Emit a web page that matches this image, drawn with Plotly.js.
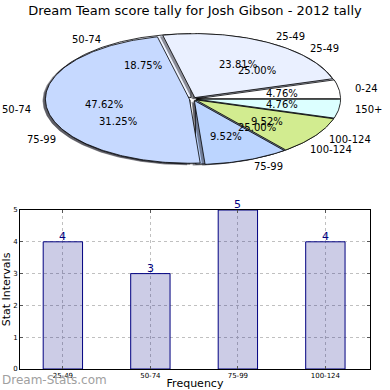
<!DOCTYPE html>
<html>
<head>
<meta charset="utf-8">
<script src="https://cdn.plot.ly/plotly-3.0.1.min.js"></script>
<style>html,body{margin:0;padding:0;background:#fff;}#chart{width:390px;height:390px;}</style>
</head>
<body>
<div id="chart"></div>
<script>
// ---- data ----
const chartTitle = 'Dream Team score tally for Josh Gibson - 2012 tally';
const pieALabels = ['0-24', '25-49', '50-74', '75-99', '100-124', '150+'];
const pieAValues = [1, 5, 10, 2, 2, 1];
const pieAColors = ['#ffffff', '#eaf0ff', '#c6d9ff', '#bcd5ff', '#d2ec90', '#dcffff'];
const pieBLabels = ['25-49', '50-74', '75-99', '100-124'];
const pieBValues = [4, 3, 5, 4];
const pieBColors = ['#eaf0ff', '#eef3ff', '#c6d9ff', '#bcd5ff'];
const barCategories = ['25-49', '50-74', '75-99', '100-124'];
const barValues = [4, 3, 5, 4];
const yTickVals = [0, 1, 2, 3, 4, 5];

// ---- pie geometry (in the overlay axes, units = pixels) ----
const CX = 193, CY = 99, RX = 144, RY = 64, EXPLODE = 0.025;
const FONT = 'DejaVu Sans, sans-serif';
const traces = [];
const annotations = [];

function wedgePoly(cx, cy, a1, a2, dx, dy) {
  const xs = [cx + dx], ys = [cy + dy];
  const n = Math.max(2, Math.ceil((a2 - a1) / 1));
  for (let i = 0; i <= n; i++) {
    const t = (a1 + (a2 - a1) * i / n) * Math.PI / 180;
    xs.push(cx + dx + RX * Math.cos(t));
    ys.push(cy + dy - RY * Math.sin(t));
  }
  xs.push(cx + dx); ys.push(cy + dy);
  return {xs, ys};
}

function addPie(labels, values, colors) {
  const total = values.reduce((a, b) => a + b, 0);
  const wedges = [];
  let start = 0;
  values.forEach((v, i) => {
    const span = v / total * 360;
    const mid = (start + span / 2) * Math.PI / 180;
    const dx = EXPLODE * RX * Math.cos(mid), dy = -EXPLODE * RY * Math.sin(mid);
    wedges.push({a1: start, a2: start + span, mid, dx, dy, i, pct: v / total * 100});
    start += span;
  });
  // shadows
  wedges.forEach(w => {
    const p = wedgePoly(CX - 0.02 * RX, CY + 0.02 * RY, w.a1, w.a2, w.dx, w.dy);
    traces.push({type: 'scatter', mode: 'lines', x: p.xs, y: p.ys, xaxis: 'x2', yaxis: 'y2',
      fill: 'toself', fillcolor: 'rgba(40,40,50,0.5)', line: {width: 0}, hoverinfo: 'skip', showlegend: false});
  });
  // wedges
  wedges.forEach(w => {
    const p = wedgePoly(CX, CY, w.a1, w.a2, w.dx, w.dy);
    traces.push({type: 'scatter', mode: 'lines', x: p.xs, y: p.ys, xaxis: 'x2', yaxis: 'y2',
      fill: 'toself', fillcolor: colors[w.i], line: {color: '#000', width: 0.8}, hoverinfo: 'skip', showlegend: false});
  });
  // texts
  wedges.forEach(w => {
    const c = Math.cos(w.mid), s = Math.sin(w.mid);
    annotations.push({xref: 'x2', yref: 'y2', x: CX + w.dx + 1.1 * RX * c, y: CY + w.dy - 1.1 * RY * s,
      text: labels[w.i], showarrow: false, xanchor: c >= 0 ? 'left' : 'right', yanchor: 'middle',
      font: {family: FONT, size: 10, color: '#000'}});
    annotations.push({xref: 'x2', yref: 'y2', x: CX + w.dx + 0.6 * RX * c, y: CY + w.dy - 0.6 * RY * s,
      text: w.pct.toFixed(2) + '%', showarrow: false, xanchor: 'center', yanchor: 'middle',
      font: {family: FONT, size: 10, color: '#000'}});
  });
}

addPie(pieBLabels, pieBValues, pieBColors);
addPie(pieALabels, pieAValues, pieAColors);

// ---- bar chart ----
traces.push({
  type: 'bar', x: barCategories, y: barValues, xaxis: 'x', yaxis: 'y', width: 0.45,
  marker: {color: 'rgba(0,0,128,0.2)', line: {color: '#000080', width: 1}},
  hoverinfo: 'skip', showlegend: false
});
barCategories.forEach((c, i) => {
  annotations.push({xref: 'x', yref: 'y', x: c, y: barValues[i], text: String(barValues[i]),
    showarrow: false, xanchor: 'center', yanchor: 'bottom', yshift: -3,
    font: {family: FONT, size: 11, color: '#000080'}});
});

annotations.push({xref: 'paper', yref: 'paper', x: 0, y: 10 / 390, xanchor: 'left', yanchor: 'middle',
  text: 'Dream-Stats.com', showarrow: false, font: {family: FONT, size: 12, color: '#a0a0a0'}});

const layout = {
  width: 390, height: 390,
  margin: {l: 0, r: 0, t: 0, b: 0},
  paper_bgcolor: '#fff', plot_bgcolor: 'rgba(0,0,0,0)',
  font: {family: FONT, color: '#000'},
  title: {text: chartTitle, font: {family: FONT, size: 13, color: '#000'}, x: 0.5, xanchor: 'center',
    y: 1 - 10 / 390, yref: 'container', yanchor: 'middle'},
  showlegend: false,
  xaxis: {domain: [20 / 390, 370 / 390], anchor: 'y', type: 'category', range: [-0.49, 3.51],
    showline: true, linecolor: '#000', linewidth: 1, mirror: 'ticks', ticks: 'inside', ticklen: 3, tickcolor: '#555',
    showgrid: true, gridcolor: '#c0c0c0', griddash: 'dot', gridwidth: 1,
    tickfont: {family: FONT, size: 7, color: '#000'},
    title: {text: 'Frequency', font: {family: FONT, size: 11, color: '#000'}, standoff: 13}, zeroline: false},
  yaxis: {domain: [21 / 390, 180 / 390], anchor: 'x', range: [0, 5], tickvals: yTickVals,
    showline: true, linecolor: '#000', linewidth: 1, mirror: 'ticks', ticks: 'inside', ticklen: 3, tickcolor: '#555',
    showgrid: true, gridcolor: '#c0c0c0', griddash: 'dot', gridwidth: 1,
    tickfont: {family: FONT, size: 7, color: '#000'},
    title: {text: 'Stat Intervals', font: {family: FONT, size: 11, color: '#000'}, standoff: 3}, zeroline: false},
  xaxis2: {domain: [0, 1], anchor: 'y2', range: [0, 390], visible: false, fixedrange: true},
  yaxis2: {domain: [200 / 390, 370 / 390], anchor: 'x2', range: [190, 20], visible: false, fixedrange: true},
  annotations: annotations
};

Plotly.newPlot('chart', traces, layout, {staticPlot: true});
</script>
</body>
</html>
